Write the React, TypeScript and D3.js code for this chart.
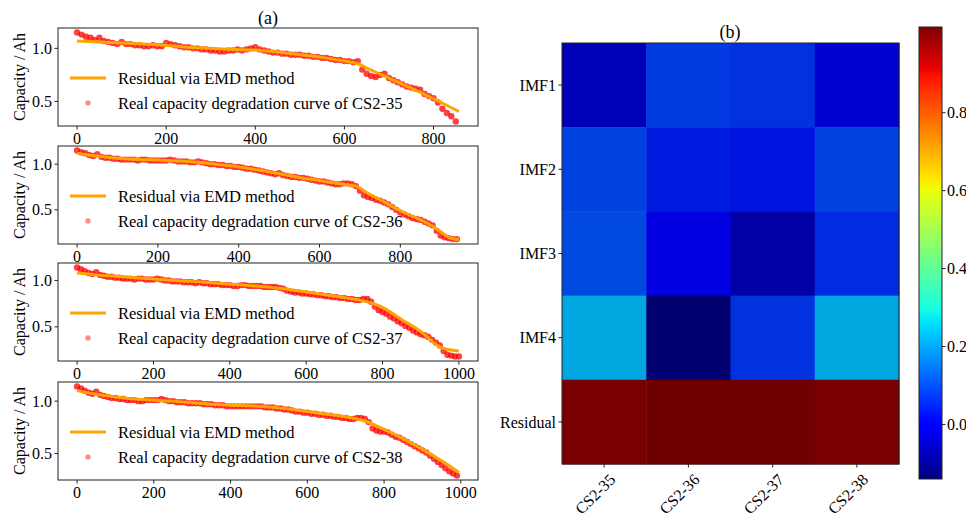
import React from 'react';
import * as d3 from 'd3';

const W = 966;
const H = 513;
const FONT = '"Liberation Serif", "Times New Roman", serif';

// ---- capacity data (Ah), one reading every 10 cycles ----
const CYCLE_STEP = 10;

const cap35 = [
  1.15, 1.13, 1.11, 1.10, 1.08, 1.10, 1.07, 1.06, 1.05, 1.04,
  1.06, 1.04, 1.04, 1.03, 1.03, 1.02, 1.02, 1.03, 1.02, 1.02,
  1.05, 1.04, 1.03, 1.02, 1.01, 1.01, 1.00, 1.00, 0.99, 0.99,
  0.98, 0.98, 0.97, 0.97, 0.98, 0.98, 0.99, 0.98, 0.99, 1.00,
  1.01, 0.99, 0.98, 0.97, 0.96, 0.96, 0.95, 0.95, 0.94, 0.94,
  0.94, 0.93, 0.93, 0.92, 0.92, 0.91, 0.91, 0.90, 0.89, 0.89,
  0.88, 0.88, 0.87, 0.88, 0.80, 0.76, 0.74, 0.73, 0.75, 0.76,
  0.72, 0.70, 0.68, 0.66, 0.64, 0.63, 0.62, 0.61, 0.57, 0.55,
  0.53, 0.49, 0.43, 0.39, 0.36, 0.31,
];

const cap36 = [
  1.15, 1.13, 1.12, 1.10, 1.09, 1.11, 1.08, 1.07, 1.07, 1.06,
  1.06, 1.05, 1.05, 1.05, 1.05, 1.04, 1.05, 1.05, 1.04, 1.04,
  1.04, 1.04, 1.04, 1.05, 1.04, 1.03, 1.03, 1.03, 1.02, 1.02,
  1.03, 1.02, 1.01, 1.00, 1.00, 0.99, 0.99, 0.98, 0.98, 0.97,
  0.97, 0.96, 0.95, 0.95, 0.94, 0.93, 0.92, 0.91, 0.90, 0.89,
  0.90, 0.88, 0.87, 0.86, 0.86, 0.85, 0.85, 0.84, 0.83, 0.82,
  0.81, 0.81, 0.80, 0.79, 0.78, 0.78, 0.79, 0.79, 0.78, 0.76,
  0.71, 0.66, 0.64, 0.63, 0.61, 0.60, 0.58, 0.56, 0.53, 0.50,
  0.47, 0.45, 0.43, 0.41, 0.40, 0.39, 0.37, 0.35, 0.33, 0.27,
  0.22, 0.20, 0.19, 0.18, 0.18,
];

const cap37 = [
  1.14, 1.12, 1.10, 1.08, 1.07, 1.09, 1.06, 1.05, 1.04, 1.04,
  1.03, 1.03, 1.02, 1.02, 1.02, 1.01, 1.02, 1.02, 1.01, 1.01,
  1.01, 1.02, 1.01, 1.00, 1.00, 0.99, 0.99, 0.99, 0.98, 0.98,
  0.98, 0.97, 0.98, 0.97, 0.97, 0.96, 0.96, 0.96, 0.95, 0.95,
  0.95, 0.94, 0.94, 0.95, 0.95, 0.94, 0.94, 0.94, 0.94, 0.93,
  0.93, 0.93, 0.93, 0.92, 0.91, 0.89, 0.88, 0.87, 0.87, 0.86,
  0.86, 0.85, 0.85, 0.84, 0.84, 0.83, 0.83, 0.82, 0.82, 0.81,
  0.81, 0.80, 0.80, 0.79, 0.79, 0.80, 0.80, 0.77, 0.72, 0.68,
  0.66, 0.64, 0.61, 0.59, 0.56, 0.54, 0.51, 0.49, 0.46, 0.44,
  0.42, 0.41, 0.39, 0.36, 0.33, 0.30, 0.24, 0.20, 0.19, 0.18,
  0.18,
];

const cap38 = [
  1.14, 1.12, 1.10, 1.08, 1.07, 1.09, 1.06, 1.05, 1.04, 1.03,
  1.03, 1.02, 1.02, 1.01, 1.01, 1.01, 1.00, 1.00, 1.01, 1.01,
  1.01, 1.01, 1.02, 1.01, 1.00, 1.00, 0.99, 0.99, 0.99, 0.98,
  0.98, 0.98, 0.98, 0.97, 0.97, 0.97, 0.96, 0.96, 0.96, 0.95,
  0.95, 0.95, 0.95, 0.95, 0.95, 0.95, 0.95, 0.95, 0.95, 0.94,
  0.94, 0.94, 0.93, 0.93, 0.92, 0.92, 0.91, 0.90, 0.90, 0.89,
  0.89, 0.88, 0.88, 0.87, 0.87, 0.86, 0.86, 0.85, 0.85, 0.84,
  0.84, 0.83, 0.83, 0.84, 0.84, 0.83, 0.80, 0.74, 0.72, 0.71,
  0.71, 0.70, 0.68, 0.66, 0.65, 0.63, 0.61, 0.59, 0.57, 0.55,
  0.53, 0.51, 0.48, 0.45, 0.42, 0.39, 0.36, 0.33, 0.31, 0.29,
];

// ---- EMD residual (trend) knots: cycle / capacity ----
const res35Cycles = [0, 50, 100, 150, 200, 250, 300, 350, 400, 450, 500, 550, 600, 630, 650, 700, 750, 800, 857];
const res35Values = [1.07, 1.06, 1.05, 1.04, 1.03, 1.01, 1.0, 0.99, 0.985, 0.965, 0.94, 0.915, 0.88, 0.855, 0.815, 0.72, 0.625, 0.525, 0.405];

const res36Cycles = [0, 50, 100, 150, 200, 250, 300, 350, 400, 450, 500, 550, 600, 650, 690, 720, 750, 800, 850, 880, 900, 920, 945];
const res36Values = [1.12, 1.09, 1.065, 1.05, 1.045, 1.035, 1.02, 0.995, 0.97, 0.935, 0.895, 0.855, 0.82, 0.785, 0.76, 0.68, 0.61, 0.49, 0.39, 0.32, 0.26, 0.2, 0.175];

const res37Cycles = [0, 50, 100, 150, 200, 250, 300, 350, 400, 450, 500, 550, 600, 650, 700, 750, 780, 800, 850, 900, 950, 980, 1000];
const res37Values = [1.08, 1.06, 1.045, 1.03, 1.015, 1.0, 0.99, 0.975, 0.96, 0.945, 0.93, 0.905, 0.875, 0.845, 0.815, 0.78, 0.745, 0.71, 0.58, 0.45, 0.285, 0.25, 0.24];

const res38Cycles = [0, 50, 100, 150, 200, 250, 300, 350, 400, 450, 500, 550, 600, 650, 700, 750, 800, 850, 900, 950, 995];
const res38Values = [1.10, 1.065, 1.04, 1.02, 1.01, 1.0, 0.985, 0.97, 0.96, 0.955, 0.945, 0.925, 0.9, 0.875, 0.85, 0.81, 0.73, 0.64, 0.54, 0.43, 0.32];

// ---- heatmap: rows are decomposition components, columns are cells ----
const cellNames = ['CS2-35', 'CS2-36', 'CS2-37', 'CS2-38'];
const componentNames = ['IMF1', 'IMF2', 'IMF3', 'IMF4', 'Residual'];
const imf1Row = [-0.06, 0.08, 0.07, -0.03];
const imf2Row = [0.09, 0.04, 0.03, 0.09];
const imf3Row = [0.10, -0.01, -0.08, 0.06];
const imf4Row = [0.22, -0.14, 0.07, 0.22];
const residualRow = [1.01, 1.02, 1.02, 1.01];
const colorbarTicks = [0.0, 0.2, 0.4, 0.6, 0.8];

// matplotlib "jet" colour map, piecewise linear
function interp(segs: number[][], t: number) {
  for (let i = 1; i < segs.length; i++) {
    if (t <= segs[i][0]) {
      const [x0, y0] = segs[i - 1];
      const [x1, y1] = segs[i];
      return y0 + ((t - x0) / (x1 - x0)) * (y1 - y0);
    }
  }
  return segs[segs.length - 1][1];
}
const JET_R = [[0, 0], [0.35, 0], [0.66, 1], [0.89, 1], [1, 0.5]];
const JET_G = [[0, 0], [0.125, 0], [0.375, 1], [0.64, 1], [0.91, 0], [1, 0]];
const JET_B = [[0, 0.5], [0.11, 1], [0.34, 1], [0.65, 0], [1, 0]];
function jet(t: number, shade = 1) {
  const c = Math.max(0, Math.min(1, t));
  const k = 255 * shade;
  return d3.rgb(interp(JET_R, c) * k, interp(JET_G, c) * k, interp(JET_B, c) * k).formatHex();
}

// ---- left column: capacity panels ----
const PANEL_LEFT = 58;
const PANEL_RIGHT = 478;
const PANEL_H = 98;
const FS = 16;

type PanelProps = {
  top: number;
  cell: string;
  capacity: number[];
  resCycles: number[];
  resValues: number[];
};

function CapacityPanel({ top, cell, capacity, resCycles, resValues }: PanelProps) {
  const bottom = top + PANEL_H;
  const pts = capacity.map((v, i) => ({ c: i * CYCLE_STEP, v }));
  const maxC = Math.max(d3.max(pts, (d) => d.c) as number, d3.max(resCycles) as number);
  const xPad = maxC * 0.05;
  const x = d3.scaleLinear().domain([-xPad, maxC + xPad]).range([PANEL_LEFT, PANEL_RIGHT]);
  const [lo, hi] = d3.extent([...capacity, ...resValues]) as [number, number];
  const yPad = (hi - lo) * 0.05;
  const y = d3.scaleLinear().domain([lo - yPad, hi + yPad]).range([bottom, top]);

  const line = d3
    .line<number>()
    .x((_, i) => x(resCycles[i]))
    .y((d) => y(d))
    .curve(d3.curveMonotoneX);

  const xTicks = x.ticks(5).filter((t) => t >= 0);
  const yTicks = y.ticks(2);
  const fmt = d3.format('.1f');
  const legX = 70;

  return (
    <g>
      {pts.map((p, i) => (
        <circle key={i} cx={x(p.c)} cy={y(p.v)} r={3.2} fill="#ff0000" fillOpacity={0.75} />
      ))}
      <path d={line(resValues) || ''} fill="none" stroke="#ffa500" strokeWidth={3} />
      <rect x={PANEL_LEFT} y={top} width={PANEL_RIGHT - PANEL_LEFT} height={PANEL_H} fill="none" stroke="#222" strokeWidth={1} />
      {xTicks.map((t) => (
        <g key={t}>
          <line x1={x(t)} x2={x(t)} y1={bottom} y2={bottom + 3.5} stroke="#222" />
          <text x={x(t)} y={bottom + 18} textAnchor="middle" fontSize={FS} fontFamily={FONT}>
            {t}
          </text>
        </g>
      ))}
      {yTicks.map((t) => (
        <g key={t}>
          <line x1={PANEL_LEFT - 3.5} x2={PANEL_LEFT} y1={y(t)} y2={y(t)} stroke="#222" />
          <text x={PANEL_LEFT - 6} y={y(t)} dy="0.35em" textAnchor="end" fontSize={FS} fontFamily={FONT}>
            {fmt(t)}
          </text>
        </g>
      ))}
      <text
        transform={`translate(19,${(top + bottom) / 2}) rotate(-90)`}
        dy="0.35em"
        textAnchor="middle"
        fontSize={FS}
        fontFamily={FONT}
      >
        Capacity / Ah
      </text>
      {/* legend */}
      <line x1={legX} x2={legX + 36} y1={top + 50} y2={top + 50} stroke="#ffa500" strokeWidth={3} />
      <text x={118} y={top + 50} dy="0.35em" fontSize={16.5} fontFamily={FONT}>
        Residual via EMD method
      </text>
      <circle cx={legX + 18} cy={top + 75} r={2.7} fill="#ff0000" fillOpacity={0.45} />
      <text x={118} y={top + 75} dy="0.35em" fontSize={16.5} fontFamily={FONT}>
        {`Real capacity degradation curve of ${cell}`}
      </text>
    </g>
  );
}

// ---- right column: heatmap with colour bar ----
function Heatmap() {
  const rows = [imf1Row, imf2Row, imf3Row, imf4Row, residualRow];
  const [vmin, vmax] = d3.extent(rows.flat()) as [number, number];
  const norm = d3.scaleLinear().domain([vmin, vmax]).range([0, 1]);
  const x = d3.scaleBand<string>().domain(cellNames).range([562, 899]);
  const y = d3.scaleBand<string>().domain(componentNames).range([43, 464]);

  const cbX = 919;
  const cbW = 23;
  const cbScale = d3.scaleLinear().domain([vmin, vmax]).range([479, 27]);
  const stops = d3.range(0, 1.0001, 0.01);

  return (
    <g>
      <defs>
        <linearGradient id="jetGrad" x1="0" y1="1" x2="0" y2="0">
          {stops.map((s) => (
            <stop key={s} offset={s} stopColor={jet(s)} />
          ))}
        </linearGradient>
      </defs>
      {rows.map((row, ri) =>
        row.map((v, ci) => (
          <rect
            key={`${ri}-${ci}`}
            x={x(cellNames[ci])}
            y={y(componentNames[ri])}
            width={x.bandwidth() + 0.5}
            height={y.bandwidth() + 0.5}
            fill={jet(norm(v), 0.88)}
          />
        ))
      )}
      <rect x={562} y={43} width={337} height={421} fill="none" stroke="#222" strokeWidth={1} />
      <text x={730} y={38} textAnchor="middle" fontSize={18} fontFamily={FONT}>
        (b)
      </text>
      {componentNames.map((n) => {
        const cy = (y(n) as number) + y.bandwidth() / 2;
        return (
          <g key={n}>
            <line x1={558.5} x2={562} y1={cy} y2={cy} stroke="#222" />
            <text x={556} y={cy} dy="0.35em" textAnchor="end" fontSize={FS} fontFamily={FONT}>
              {n}
            </text>
          </g>
        );
      })}
      {cellNames.map((n) => {
        const cx = (x(n) as number) + x.bandwidth() / 2;
        return (
          <g key={n}>
            <line x1={cx} x2={cx} y1={464} y2={467.5} stroke="#222" />
            <text
              transform={`translate(${cx - 9},${494}) rotate(-45)`}
              dy="0.35em"
              textAnchor="middle"
              fontSize={FS}
              fontFamily={FONT}
            >
              {n}
            </text>
          </g>
        );
      })}
      <rect x={cbX} y={27} width={cbW} height={452} fill="url(#jetGrad)" stroke="#222" strokeWidth={1} />
      {colorbarTicks.map((t) => (
        <g key={t}>
          <line x1={cbX + cbW} x2={cbX + cbW + 3.5} y1={cbScale(t)} y2={cbScale(t)} stroke="#222" />
          <text x={cbX + cbW + 5} y={cbScale(t)} dy="0.35em" fontSize={FS} fontFamily={FONT}>
            {d3.format('.1f')(t)}
          </text>
        </g>
      ))}
    </g>
  );
}

const panels = [
  { top: 28, cell: 'CS2-35', capacity: cap35, resCycles: res35Cycles, resValues: res35Values },
  { top: 146, cell: 'CS2-36', capacity: cap36, resCycles: res36Cycles, resValues: res36Values },
  { top: 263, cell: 'CS2-37', capacity: cap37, resCycles: res37Cycles, resValues: res37Values },
  { top: 382, cell: 'CS2-38', capacity: cap38, resCycles: res38Cycles, resValues: res38Values },
];

export default function App() {
  return (
    <svg
      width={W}
      height={H}
      viewBox={`0 0 ${W} ${H}`}
      style={{ position: 'absolute', left: 0, top: 0, background: '#fff' }}
    >
      <rect width={W} height={H} fill="#fff" />
      <text x={268} y={24} textAnchor="middle" fontSize={18} fontFamily={FONT}>
        (a)
      </text>
      {panels.map((p) => (
        <CapacityPanel key={p.cell} {...p} />
      ))}
      <Heatmap />
    </svg>
  );
}
